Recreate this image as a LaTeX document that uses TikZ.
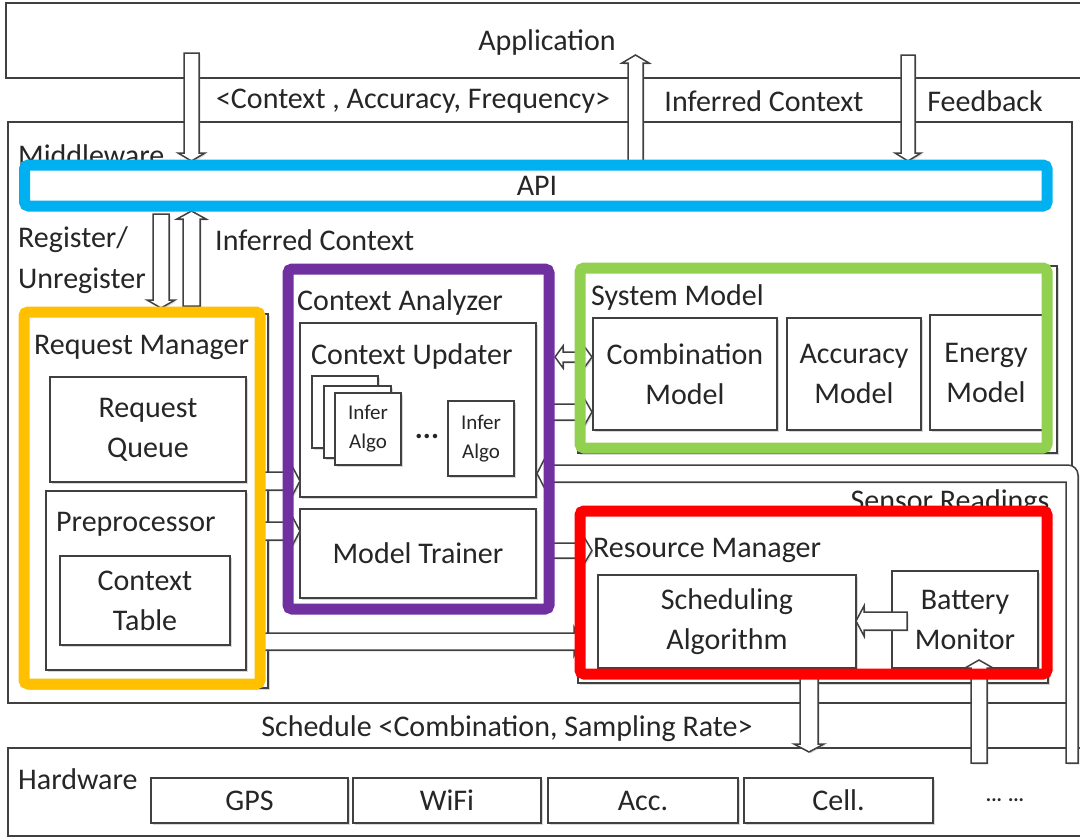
\documentclass[tikz,border=0pt]{standalone}
\usepackage{fontspec}
\setmainfont{Carlito}
\usetikzlibrary{shadows}
\definecolor{apiblue}{RGB}{0,176,240}
\definecolor{rmyellow}{RGB}{255,192,0}
\definecolor{capurple}{RGB}{112,48,160}
\definecolor{smgreen}{RGB}{146,208,80}
\definecolor{resred}{RGB}{255,0,0}
\definecolor{linegray}{RGB}{64,64,64}
\newcommand\BArrDown[4]{\path[blk] (#1,#3) -- (#2,#3) -- (#2,{#4-8}) -- ({#2+6},{#4-8}) -- ({(#1+#2)/2},#4) -- ({#1-6},{#4-8}) -- (#1,{#4-8}) -- cycle;}
\newcommand\BArrUp[4]{\path[blk] (#1,#3) -- (#1,{#4+8}) -- ({#1-6},{#4+8}) -- ({(#1+#2)/2},#4) -- ({#2+6},{#4+8}) -- (#2,{#4+8}) -- (#2,#3) -- cycle;}
\newcommand\BArrRight[4]{\path[blk] (#3,#1) -- ({#4-8},#1) -- ({#4-8},{#1-6}) -- (#4,{(#1+#2)/2}) -- ({#4-8},{#2+6}) -- ({#4-8},#2) -- (#3,#2) -- cycle;}
\newcommand\BArrLeft[4]{\path[blk] (#3,#1) -- ({#4+8},#1) -- ({#4+8},{#1-6}) -- (#4,{(#1+#2)/2}) -- ({#4+8},{#2+6}) -- ({#4+8},#2) -- (#3,#2) -- cycle;}
\newcommand\BArrBoth[4]{\path[blk] (#3,{(#1+#2)/2}) -- ({#3+8},{#1-6}) -- ({#3+8},#1) -- ({#4-8},#1) -- ({#4-8},{#1-6}) -- (#4,{(#1+#2)/2}) -- ({#4-8},{#2+6}) -- ({#4-8},#2) -- ({#3+8},#2) -- ({#3+8},{#2+6}) -- cycle;}
\begin{document}
\begin{tikzpicture}[x=1pt,y=-1pt,
  every node/.style={font=\fontsize{30}{40}\selectfont, text=black!85, inner sep=0pt},
  box/.style={draw=linegray, line width=1.5pt, fill=white, align=center,
    drop shadow={shadow xshift=2pt, shadow yshift=-2pt, opacity=0.3}},
  plainbox/.style={draw=linegray, line width=1.5pt, fill=white},
  backbox/.style={plainbox, drop shadow={shadow xshift=2pt, shadow yshift=-2pt, opacity=0.3}},
  blk/.style={draw=linegray, line width=1.5pt, fill=white, line join=miter,
    drop shadow={shadow xshift=1.5pt, shadow yshift=-1.5pt, opacity=0.25}},
  frame/.style={line width=11pt, rounded corners=4pt},
  lbl/.style={anchor=west},
  small/.style={font=\fontsize{21}{29}\selectfont, align=center}]
\fill[white] (0,0) rectangle (1080,839);
\useasboundingbox (0,0) rectangle (1080,839);

% containers
\node[plainbox, minimum width=1084, minimum height=75] (app) at (548,40.5) {};
\node (apptxt) at (547,42) {Application};
\node[plainbox, minimum width=1064, minimum height=581] (mw) at (540,412.5) {};
\node[plainbox, minimum width=1082, minimum height=88] (hw) at (549,792) {};

% labels
\node (l1) at (413,101) {<Context , Accuracy, Frequency>};
\node (l2) at (764,101) {Inferred Context};
\node (l3) at (985,101) {Feedback};
\node[anchor=base west] (mwl) at (18,165) {Middleware};
\node[lbl] (reg) at (18,240) {Register/};
\node[lbl] (unreg) at (18,281) {Unregister};
\node[lbl] (inf) at (215,240) {Inferred Context};
\node (sched) at (507,729) {Schedule <Combination, Sampling Rate>};
\node[lbl] (hwl) at (18,779) {Hardware};

% hardware sensors
\node[box, minimum width=197, minimum height=45] (gps) at (249.5,800.5) {GPS};
\node[box, minimum width=188, minimum height=45] (wifi) at (447,800.5) {WiFi};
\node[box, minimum width=190, minimum height=45] (accs) at (643,800.5) {Acc.};
\node[box, minimum width=189, minimum height=45] (cell) at (838.5,800.5) {Cell.};
\node (more) at (1005,800) {\fontsize{20}{24}\selectfont \textbf{... ...}};

% API
\node[plainbox, minimum width=1020, minimum height=40] (api) at (536,185.5) {};
\node (apitxt) at (537,186) {API};

% backing boxes of coloured groups
\node[backbox, minimum width=242, minimum height=374] (rmback) at (147,501) {};
\node[backbox, minimum width=479, minimum height=187] (smback) at (817.5,359.5) {};
\node[backbox, minimum width=470, minimum height=174] (resback) at (813,596) {};

% Request Manager contents
\node[lbl] (rml) at (34,347) {Request Manager};
\node[box, minimum width=196, minimum height=105] (rq) at (148,429.5) {Request\\Queue};
\node[box, minimum width=200, minimum height=179] (pre) at (146,580.5) {};
\node[lbl] (prel) at (56,524) {Preprocessor};
\node[box, minimum width=170, minimum height=89] (ctab) at (145,600.5) {Context\\Table};

% Context Analyzer contents
\node[lbl] (cal) at (297,302) {Context Analyzer};
\node[box, minimum width=236, minimum height=174] (cu) at (418,410) {};
\node[lbl] (cul) at (311,356) {Context Updater};
\node[box, minimum width=66, minimum height=72] (algoc) at (345,412) {};
\node[box, minimum width=67, minimum height=72] (algob) at (357.5,422) {};
\node[box, small, minimum width=66, minimum height=72] (algoa) at (368,429) {Infer\\Algo};
\node (dots) at (427,436) {\textbf{...}};
\node[box, small, minimum width=66, minimum height=75] (algo2) at (481,438.5) {Infer\\Algo};
\node[box, minimum width=236, minimum height=89] (mt) at (418,553.5) {Model Trainer};

% System Model contents
\node[lbl] (sml) at (591,297) {System Model};
\node[box, minimum width=184, minimum height=112] (comb) at (685,374) {Combination\\Model};
\node[box, minimum width=134, minimum height=112] (accm) at (854,374) {Accuracy\\Model};
\node[box, minimum width=115, minimum height=115] (enm) at (987.5,372.5) {};
\node[align=center] (enmt) at (986,373) {Energy\\Model};

% Resource Manager contents
\node[lbl] (resl) at (593,550) {Resource Manager};
\node[box, minimum width=258, minimum height=93] (sa) at (727,621.5) {Scheduling\\Algorithm};
\node[box, minimum width=146, minimum height=97] (bm) at (965,619.5) {Battery\\Monitor};

% block arrows
\BArrDown{184}{199}{53}{161}
\BArrUp{628}{643}{162}{55}
\BArrDown{901}{915}{55}{161}
\BArrDown{153}{169}{214}{308}
\BArrUp{183}{200}{306}{211}
\BArrRight{472}{490}{262}{300}
\BArrRight{522}{540}{262}{300}
\BArrBoth{352}{362}{555}{592}
\BArrRight{404}{420}{545}{592}
\BArrRight{543}{558}{545}{592}
\BArrRight{633}{650}{262}{582}
\BArrLeft{612}{630}{907}{856}
\BArrDown{800}{818}{672}{752}
\BArrUp{971}{987}{763}{660}
% sensor readings arrow
\path[blk] (1066,763) -- (1066,482) -- (545,482) -- (545,489) -- (537,473.5) -- (545,458) -- (545,465)
  [rounded corners=10pt] -- (1078,465) -- (1078,520) [sharp corners] -- (1078,763) -- cycle;
\node (senl) at (950,503) {Sensor Readings};

% coloured frames
\draw[frame, draw=apiblue] (24.5,165) rectangle (1047,206);
\draw[frame, draw=rmyellow] (24,312) rectangle (260,684);
\draw[frame, draw=capurple] (288,269) rectangle (549,609);
\draw[frame, draw=smgreen] (580,268) rectangle (1047,448);
\draw[frame, draw=resred] (580,511) rectangle (1047,674);
\end{tikzpicture}
\end{document}
